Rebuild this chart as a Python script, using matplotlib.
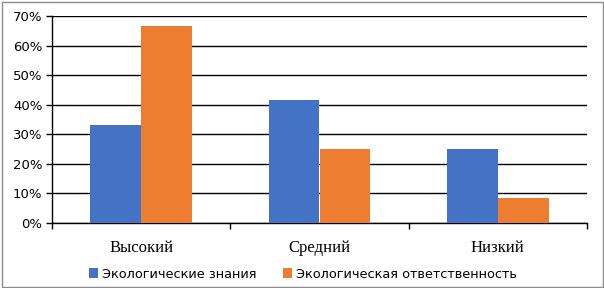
import matplotlib.pyplot as plt
from matplotlib.patches import Rectangle
from matplotlib.ticker import FuncFormatter
import numpy as np

categories = ["Высокий", "Средний", "Низкий"]
series_names = ["Экологические знания", "Экологическая ответственность"]
knowledge = [0.333, 0.417, 0.25]
responsibility = [0.667, 0.25, 0.083]
colors = ["#4472C4", "#ED7D31"]

W, H = 604, 288
fig = plt.figure(figsize=(W / 100, H / 100), dpi=100)
ax = fig.add_axes([52 / W, (H - 223) / H, 535 / W, 207 / H])

x = np.arange(len(categories))
bw = 1 / 3.5
b1 = ax.bar(x - bw / 2, knowledge, bw, color=colors[0], label=series_names[0], zorder=3)
b2 = ax.bar(x + bw / 2, responsibility, bw, color=colors[1], label=series_names[1], zorder=3)

ax.set_xlim(-0.5, 2.5)
ax.set_ylim(0, 0.7)
ax.set_yticks(np.arange(0, 0.71, 0.1))
ax.yaxis.set_major_formatter(FuncFormatter(lambda v, p: "%d%%" % round(v * 100)))
ax.grid(axis="y", color="black", linewidth=1, zorder=0)
ax.set_axisbelow(True)

for s in ["top", "right"]:
    ax.spines[s].set_visible(False)
ax.spines["left"].set_linewidth(1)
ax.spines["bottom"].set_linewidth(1)

ax.set_xticks(x)
ax.set_xticklabels(categories, family="Liberation Serif", fontsize=12)
ax.tick_params(axis="x", which="major", length=0, pad=12)
ax.set_xticks([-0.5, 0.5, 1.5, 2.5], minor=True)
ax.tick_params(axis="x", which="minor", length=4, width=1, direction="out")
ax.tick_params(axis="y", length=4, width=1, direction="out", labelsize=9.5, pad=3)
for lab in ax.get_yticklabels():
    lab.set_family("DejaVu Sans")

fig.legend(handles=[b1, b2], labels=series_names, loc="center",
           bbox_to_anchor=(303 / W, 1 - 274 / H), ncol=2, frameon=False,
           fontsize=9.3, handlelength=0.7, handleheight=0.7, handletextpad=0.35,
           columnspacing=2.0)

fig.patches.append(Rectangle((1.5 / W, 1.5 / H), 1 - 3 / W, 1 - 3 / H,
                             transform=fig.transFigure, fill=False,
                             edgecolor="#8c8c8c", linewidth=1))

fig.savefig("out.png", dpi=100)
